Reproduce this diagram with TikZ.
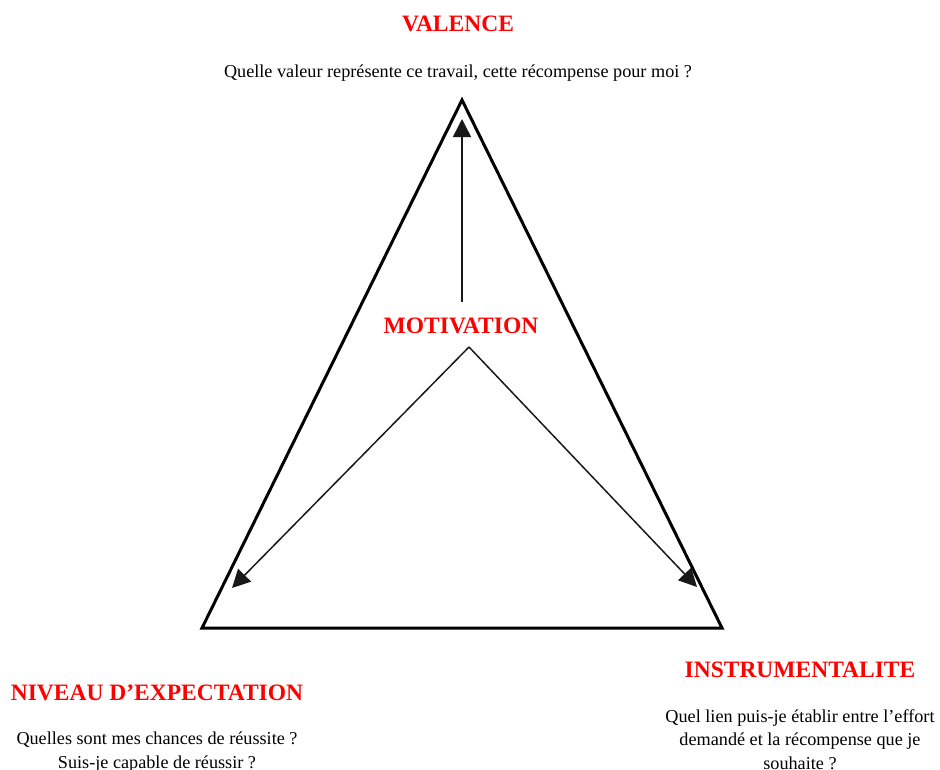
\documentclass[tikz,border=0pt]{standalone}
\usepackage{fontspec}
\setmainfont{Liberation Serif}
\usetikzlibrary{arrows.meta}
\definecolor{titlered}{RGB}{255,0,0}
\tikzset{
  title/.style={text=titlered, font=\fontsize{23.5}{27}\selectfont\bfseries, inner sep=0pt},
  question/.style={text=black, font=\fontsize{18.2}{23.5}\selectfont, align=center, inner sep=0pt},
  side/.style={line width=3pt, line join=miter},
  arr/.style={line width=1.5pt, draw=black!90, -{Triangle[length=18pt,width=18pt]}}
}
\begin{document}
\begin{tikzpicture}[x=1pt,y=-1pt]
\useasboundingbox (0,0) rectangle (940,769);
\clip (0,0) rectangle (940,769);
% triangle
\coordinate (top) at (462,100);
\coordinate (bl) at (202,628);
\coordinate (br) at (722,628);
\draw[side] (top) -- (bl) -- (br) -- cycle;
% labels
\node[title] (valence) at (458,24) {VALENCE};
\node[question] (qvalence) at (458,73) {Quelle valeur représente ce travail, cette récompense pour moi ?};
\node[title] (motivation) at (461,326) {MOTIVATION};
\node[title] (niveau) at (157,693) {NIVEAU D’EXPECTATION};
\node[question, anchor=north] (qniveau) at (157,732) {Quelles sont mes chances de réussite ?\\Suis-je capable de réussir ?};
\node[title] (instru) at (800,670) {INSTRUMENTALITE};
\node[question, anchor=north] (qinstru) at (800,709) {Quel lien puis-je établir entre l’effort\\demandé et la récompense que je\\souhaite ?};
% arrows
\coordinate (mtop) at (462,302);
\coordinate (mbot) at (469,347);
\coordinate (tipv) at (462,119);
\coordinate (tipl) at (232,588);
\coordinate (tipr) at (697,587);
\draw[arr] (mtop) -- (tipv);
\draw[arr] (mbot) -- (tipl);
\draw[arr] (mbot) -- (tipr);
\end{tikzpicture}
\end{document}
